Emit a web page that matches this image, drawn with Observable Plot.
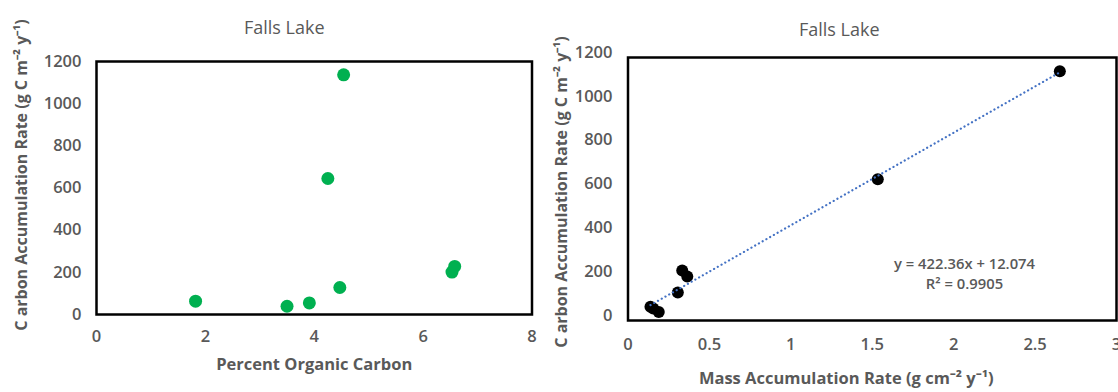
<!DOCTYPE html>
<html>
<head>
<meta charset="utf-8">
<script src="https://cdn.jsdelivr.net/npm/d3@7"></script>
<script src="https://cdn.jsdelivr.net/npm/@observablehq/plot@0.6"></script>
<style>
  html, body { margin: 0; padding: 0; background: #fff; }
  #wrap { position: relative; width: 1118px; height: 392px; overflow: hidden; font-family: "Open Sans", sans-serif; }
  #left, #right { position: absolute; top: 0; }
  #left { left: 0; }
  #right { left: 560px; }
  svg { overflow: visible; }
</style>
</head>
<body>
<div id="wrap"><div id="left"></div><div id="right"></div></div>
<script>
// ---- data ----
const titleText = "Falls Lake";
const yLabel = "C arbon Accumulation Rate (g C m\u207B\u00B2 y\u207B\u00B9)";
const xLabelLeft = "Percent Organic Carbon";
const xLabelRight = "Mass Accumulation Rate (g cm\u207B\u00B2 y\u207B\u00B9)";
const carbonRate = [63, 39, 55, 645, 128, 1137, 201, 228];       // g C m-2 y-1
const percentOC  = [1.82, 3.50, 3.91, 4.25, 4.47, 4.54, 6.53, 6.58];
const massRate   = [0.138, 0.189, 0.155, 1.534, 0.306, 2.652, 0.364, 0.333];
const yTicks = [0, 200, 400, 600, 800, 1000, 1200];
const xTicksLeft = [0, 2, 4, 6, 8];
const xTicksRight = [0, 0.5, 1, 1.5, 2, 2.5, 3];
const slope = 422.36, intercept = 12.074, r2 = 0.9905;
const eqLine1 = `y = ${slope}x + ${intercept}`;
const eqLine2 = `R\u00B2 = ${r2}`;

const gray = "#595959";
const font = "Open Sans";

const leftData = percentOC.map((x, i) => ({x, y: carbonRate[i]}));
const rightData = massRate.map((x, i) => ({x, y: carbonRate[i]}));
const xmin = d3.min(massRate), xmax = d3.max(massRate);
const trend = [xmin, xmax].map(x => ({x, y: slope * x + intercept}));

const fmt = d => String(d);
const tickStyle = {fontSize: 16.5, fill: gray, fontWeight: 600, fontFamily: font, tickFormat: fmt};
const titleStyle = {fontSize: 18, fill: gray, fontFamily: font, textAnchor: "middle", lineAnchor: "middle"};
const axisTitleStyle = {fontSize: 16.5, fontWeight: "bold", fill: gray, fontFamily: font, textAnchor: "middle", lineAnchor: "middle"};
const yTitleStyle = {...axisTitleStyle, fontSize: 16, rotate: -90};

const left = Plot.plot({
  width: 560, height: 392,
  marginLeft: 96, marginRight: 28.5, marginTop: 61, marginBottom: 78,
  style: {fontFamily: font, overflow: "visible"},
  x: {domain: [0, 8]},
  y: {domain: [0, 1200]},
  marks: [
    Plot.axisX({ticks: xTicksLeft, tickSize: 0, tickPadding: 16, label: null, ...tickStyle}),
    Plot.axisY({ticks: yTicks, tickSize: 0, tickPadding: 15, label: null, ...tickStyle}),
    Plot.dot(leftData, {x: "x", y: "y", r: 6.5, fill: "#00B050", stroke: "none"}),
    Plot.frame({stroke: "#000", strokeWidth: 2.5}),
    Plot.text([titleText], {frameAnchor: "top", dx: -30, dy: -33, ...titleStyle}),
    Plot.text([xLabelLeft], {frameAnchor: "bottom", dy: 50, ...axisTitleStyle}),
    Plot.text([yLabel], {frameAnchor: "left", dx: -75, dy: -13, ...yTitleStyle})
  ]
});
document.getElementById("left").append(left);

const right = Plot.plot({
  width: 558, height: 392,
  marginLeft: 67.5, marginRight: 2, marginTop: 57, marginBottom: 72,
  style: {fontFamily: font, overflow: "visible"},
  x: {domain: [0, 3]},
  y: {domain: [0, 1200]},
  marks: [
    Plot.axisX({ticks: xTicksRight, tickSize: 0, tickPadding: 17.5, label: null, ...tickStyle}),
    Plot.axisY({ticks: yTicks, tickSize: 0, tickPadding: 15.5, label: null, dy: -5, ...tickStyle}),
    Plot.dot(rightData, {x: "x", y: "y", r: 6, fill: "#000", stroke: "none"}),
    Plot.line(trend, {x: "x", y: "y", stroke: "#4472C4", strokeWidth: 2.2, strokeDasharray: "0.1,4.2", strokeLinecap: "round"}),
    Plot.frame({stroke: "#000", strokeWidth: 2.5}),
    Plot.text([eqLine1], {frameAnchor: "bottom-right", dx: -152, dy: -56, textAnchor: "middle", lineAnchor: "middle", fontSize: 14.8, fontWeight: 600, fill: gray, fontFamily: font}),
    Plot.text([eqLine2], {frameAnchor: "bottom-right", dx: -152, dy: -36, textAnchor: "middle", lineAnchor: "middle", fontSize: 14.8, fontWeight: 600, fill: gray, fontFamily: font}),
    Plot.text([titleText], {frameAnchor: "top", dx: -33, dy: -27, ...titleStyle}),
    Plot.text([xLabelRight], {frameAnchor: "bottom", dx: -26, dy: 58, ...axisTitleStyle}),
    Plot.text([yLabel], {frameAnchor: "left", dx: -66, dy: 3, ...yTitleStyle})
  ]
});
document.getElementById("right").append(right);
</script>
</body>
</html>
